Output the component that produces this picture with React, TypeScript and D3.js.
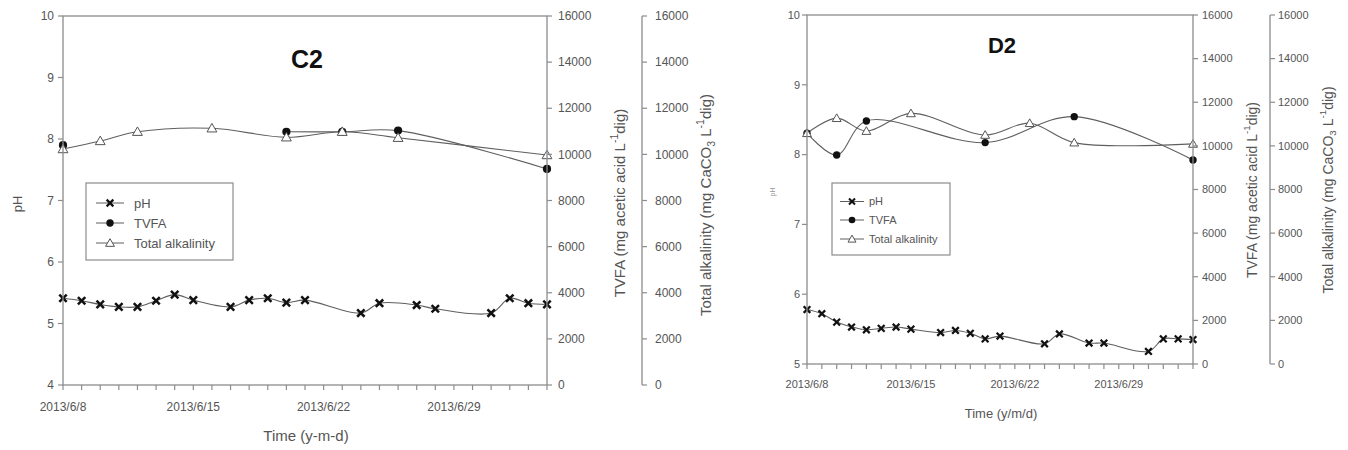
import React from 'react';
import * as d3 from 'd3';

// ---------- data ----------
const phDates = ["2013-06-08","2013-06-09","2013-06-10","2013-06-11","2013-06-12","2013-06-13","2013-06-14","2013-06-15","2013-06-17","2013-06-18","2013-06-19","2013-06-20","2013-06-21","2013-06-24","2013-06-25","2013-06-27","2013-06-28","2013-07-01","2013-07-02","2013-07-03","2013-07-04"];
const c2Ph = [5.41,5.37,5.31,5.27,5.27,5.37,5.47,5.38,5.27,5.38,5.41,5.34,5.38,5.17,5.33,5.30,5.24,5.17,5.41,5.33,5.31];
const c2TvfaDates = ["2013-06-08","2013-06-20","2013-06-23","2013-06-26","2013-07-04"];
const c2Tvfa = [10400,10980,10980,11030,9370];
const c2TvfaSegment = [0,1,1,1,1];
const c2AlkDates = ["2013-06-08","2013-06-10","2013-06-12","2013-06-16","2013-06-20","2013-06-23","2013-06-26","2013-07-04"];
const c2Alk = [10230,10580,10980,11130,10740,10980,10720,9970];

const d2Ph = [5.78,5.72,5.60,5.53,5.49,5.51,5.53,5.50,5.45,5.48,5.44,5.36,5.40,5.29,5.43,5.30,5.30,5.18,5.36,5.36,5.35];
const d2TvfaDates = ["2013-06-08","2013-06-10","2013-06-12","2013-06-20","2013-06-26","2013-07-04"];
const d2Tvfa = [10580,9580,11140,10150,11340,9350];
const d2TvfaSegment = [0,0,0,0,0,0];
const d2AlkDates = ["2013-06-08","2013-06-10","2013-06-12","2013-06-15","2013-06-20","2013-06-23","2013-06-26","2013-07-04"];
const d2Alk = [10580,11270,10680,11490,10500,11040,10150,10090];

const dateStart = "2013-06-08";
const dateEnd = "2013-07-04";
const xTickLabels = ["2013-06-08","2013-06-15","2013-06-22","2013-06-29"];
const rightTicks = [0,2000,4000,6000,8000,10000,12000,14000,16000];
const legendLabels = ["pH","TVFA","Total alkalinity"];

const parse = d3.timeParse("%Y-%m-%d");
const fmt = d3.timeFormat("%Y/%-m/%-d");

const FONT = "'Liberation Sans', Arial, sans-serif";
const AXIS = "#8c8c8c";
const TXT = "#555";
const LINE = "#5f5f5f";
const MARK = "#111";

type PanelProps = {
  title: string; xLabel: string;
  x0: number; x1: number; yTop: number; yBot: number; ax2: number;
  phMin: number; phMax: number;
  ph: number[]; tvfaDates: string[]; tvfa: number[]; tvfaSeg: number[];
  alkDates: string[]; alk: number[];
  fs: number; titleFs: number; titleX: number; titleY: number;
  xLabelY: number; xLabelFs: number; xTickY: number;
  leftLabelRight: number; rightLabelX: number; ax2LabelX: number;
  phTitleX: number; phTitleY: number; phTitleFs: number; phTitleColor: string;
  tvfaTitleX: number; tvfaTitleY: number; alkTitleX: number; alkTitleY: number; axTitleFs: number;
  legend: { x: number; y: number; w: number; h: number; rowY: number[]; lx0: number; lx1: number; tx: number; fs: number };
  markScale: number;
};

function XMark({ cx, cy, s }: { cx: number; cy: number; s: number }) {
  const r = 3.7 * s;
  return <path d={`M${cx - r},${cy - r}L${cx + r},${cy + r}M${cx - r},${cy + r}L${cx + r},${cy - r}`} stroke={MARK} strokeWidth={2.5 * s} fill="none" />;
}
function Dot({ cx, cy, s }: { cx: number; cy: number; s: number }) {
  return <circle cx={cx} cy={cy} r={4.1 * s} fill={MARK} />;
}
function Tri({ cx, cy, s }: { cx: number; cy: number; s: number }) {
  const p = d3.symbol(d3.symbolTriangle, 42 * s * s)();
  return <path d={p || ''} transform={`translate(${cx},${cy + 0.8})`} fill="#fff" stroke="#555" strokeWidth={1} />;
}

function Panel(p: PanelProps) {
  const x = d3.scaleTime().domain([parse(dateStart)!, parse(dateEnd)!]).range([p.x0, p.x1]);
  const yPh = d3.scaleLinear().domain([p.phMin, p.phMax]).range([p.yBot, p.yTop]);
  const yR = d3.scaleLinear().domain([0, 16000]).range([p.yBot, p.yTop]);
  const curve = d3.curveCatmullRom.alpha(0.5);

  const phPts = phDates.map((d, i) => [x(parse(d)!), yPh(p.ph[i])] as [number, number]);
  const tvPts = p.tvfaDates.map((d, i) => [x(parse(d)!), yR(p.tvfa[i])] as [number, number]);
  const alPts = p.alkDates.map((d, i) => [x(parse(d)!), yR(p.alk[i])] as [number, number]);
  const lineGen = d3.line<[number, number]>().curve(curve);

  const segIds = Array.from(new Set(p.tvfaSeg));
  const tvSegs = segIds.map(id => tvPts.filter((_, i) => p.tvfaSeg[i] === id)).filter(s => s.length > 1);

  const days = d3.timeDay.range(parse(dateStart)!, d3.timeDay.offset(parse(dateEnd)!, 1));
  const phTicks = d3.range(p.phMin, p.phMax + 1);
  const s = p.markScale;
  const L = p.legend;

  return (
    <g fontFamily={FONT}>
      {/* data lines */}
      <path d={lineGen(alPts) || ''} fill="none" stroke={LINE} strokeWidth={1.1} />
      {tvSegs.map((sg, i) => <path key={i} d={lineGen(sg) || ''} fill="none" stroke={LINE} strokeWidth={1.1} />)}
      <path d={lineGen(phPts) || ''} fill="none" stroke={LINE} strokeWidth={1.1} />
      {tvPts.map((q, i) => <Dot key={'t' + i} cx={q[0]} cy={q[1]} s={s} />)}
      {alPts.map((q, i) => <Tri key={'a' + i} cx={q[0]} cy={q[1]} s={s} />)}
      {phPts.map((q, i) => <XMark key={'p' + i} cx={q[0]} cy={q[1]} s={s} />)}

      {/* frame */}
      <rect x={p.x0} y={p.yTop} width={p.x1 - p.x0} height={p.yBot - p.yTop} fill="none" stroke={AXIS} strokeWidth={1.3} />
      {/* left axis */}
      {phTicks.map(t => (
        <g key={'l' + t}>
          <line x1={p.x0 - 5} x2={p.x0} y1={yPh(t)} y2={yPh(t)} stroke={AXIS} strokeWidth={1.2} />
          <text x={p.leftLabelRight} y={yPh(t)} dy="0.35em" textAnchor="end" fontSize={p.fs} fill={TXT}>{t}</text>
        </g>
      ))}
      {/* bottom axis */}
      {days.map((d, i) => (
        <line key={'d' + i} x1={x(d)} x2={x(d)} y1={p.yBot} y2={p.yBot + 5} stroke={AXIS} strokeWidth={1.2} />
      ))}
      {xTickLabels.map(d => (
        <text key={d} x={x(parse(d)!)} y={p.xTickY} textAnchor="middle" fontSize={p.fs} fill={TXT}>{fmt(parse(d)!)}</text>
      ))}
      {/* right axis TVFA */}
      {rightTicks.map(t => (
        <g key={'r' + t}>
          <line x1={p.x1} x2={p.x1 + 5} y1={yR(t)} y2={yR(t)} stroke={AXIS} strokeWidth={1.2} />
          <text x={p.rightLabelX} y={yR(t)} dy="0.35em" fontSize={p.fs} fill={TXT}>{t}</text>
        </g>
      ))}
      {/* second right axis alkalinity */}
      <line x1={p.ax2} x2={p.ax2} y1={p.yTop} y2={p.yBot} stroke={AXIS} strokeWidth={1.3} />
      {rightTicks.map(t => (
        <g key={'s' + t}>
          <line x1={p.ax2} x2={p.ax2 + 5} y1={yR(t)} y2={yR(t)} stroke={AXIS} strokeWidth={1.2} />
          <text x={p.ax2LabelX} y={yR(t)} dy="0.35em" fontSize={p.fs} fill={TXT}>{t}</text>
        </g>
      ))}

      {/* axis titles */}
      <text transform={`translate(${p.phTitleX},${p.phTitleY}) rotate(-90)`} textAnchor="middle" fontSize={p.phTitleFs} fill={p.phTitleColor}>pH</text>
      <text transform={`translate(${p.tvfaTitleX},${p.tvfaTitleY}) rotate(-90)`} textAnchor="middle" dominantBaseline="middle" fontSize={p.axTitleFs} fill={TXT}>
        TVFA (mg acetic acid L<tspan fontSize={p.axTitleFs * 0.7} dy={-p.axTitleFs * 0.4}>-1</tspan><tspan dy={p.axTitleFs * 0.4}>dig)</tspan>
      </text>
      <text transform={`translate(${p.alkTitleX},${p.alkTitleY}) rotate(-90)`} textAnchor="middle" dominantBaseline="middle" fontSize={p.axTitleFs} fill={TXT}>
        Total alkalinity (mg CaCO<tspan fontSize={p.axTitleFs * 0.7} dy={p.axTitleFs * 0.3}>3</tspan><tspan dy={-p.axTitleFs * 0.3}> L</tspan><tspan fontSize={p.axTitleFs * 0.7} dy={-p.axTitleFs * 0.4}>-1</tspan><tspan dy={p.axTitleFs * 0.4}>dig)</tspan>
      </text>
      <text x={(p.x0 + p.x1) / 2 + 1} y={p.xLabelY} textAnchor="middle" fontSize={p.xLabelFs} fill={TXT}>{p.xLabel}</text>
      <text x={p.titleX} y={p.titleY} textAnchor="middle" fontSize={p.titleFs} fontWeight="bold" fill="#111">{p.title}</text>

      {/* legend */}
      <rect x={L.x} y={L.y} width={L.w} height={L.h} fill="#fff" stroke={AXIS} strokeWidth={1.2} />
      {legendLabels.map((lab, i) => {
        const cy = L.rowY[i];
        const cx = (L.lx0 + L.lx1) / 2;
        return (
          <g key={lab}>
            <line x1={L.lx0} x2={L.lx1} y1={cy} y2={cy} stroke={LINE} strokeWidth={1} />
            {i === 0 && <XMark cx={cx} cy={cy} s={s * 0.9} />}
            {i === 1 && <Dot cx={cx} cy={cy} s={s * 0.9} />}
            {i === 2 && <Tri cx={cx} cy={cy} s={s * 0.9} />}
            <text x={L.tx} y={cy} dy="0.35em" fontSize={L.fs} fill={TXT}>{lab}</text>
          </g>
        );
      })}
    </g>
  );
}

export default function App() {
  return (
    <svg width={1348} height={450} style={{ position: 'absolute', left: 0, top: 0, background: '#fff' }}>
      <rect width={1348} height={450} fill="#fff" />
      <Panel
        title="C2" xLabel="Time (y-m-d)"
        x0={63} x1={547} yTop={16} yBot={385} ax2={642}
        phMin={4} phMax={10}
        ph={c2Ph} tvfaDates={c2TvfaDates} tvfa={c2Tvfa} tvfaSeg={c2TvfaSegment}
        alkDates={c2AlkDates} alk={c2Alk}
        fs={12} titleFs={25} titleX={307} titleY={68}
        xLabelY={441} xLabelFs={15} xTickY={411}
        leftLabelRight={54} rightLabelX={558} ax2LabelX={655}
        phTitleX={22} phTitleY={204} phTitleFs={13} phTitleColor={TXT}
        tvfaTitleX={621} tvfaTitleY={203} alkTitleX={707} alkTitleY={205} axTitleFs={15}
        legend={{ x: 86, y: 183, w: 147, h: 77, rowY: [203, 223, 243], lx0: 96, lx1: 124, tx: 134, fs: 13 }}
        markScale={1}
      />
      <Panel
        title="D2" xLabel="Time (y/m/d)"
        x0={807} x1={1193} yTop={15} yBot={364} ax2={1270}
        phMin={5} phMax={10}
        ph={d2Ph} tvfaDates={d2TvfaDates} tvfa={d2Tvfa} tvfaSeg={d2TvfaSegment}
        alkDates={d2AlkDates} alk={d2Alk}
        fs={11} titleFs={22} titleX={1002} titleY={53}
        xLabelY={418} xLabelFs={13} xTickY={388}
        leftLabelRight={800} rightLabelX={1202} ax2LabelX={1278}
        phTitleX={775} phTitleY={192} phTitleFs={7} phTitleColor="#999"
        tvfaTitleX={1253} tvfaTitleY={190} alkTitleX={1329} alkTitleY={190} axTitleFs={14}
        legend={{ x: 832, y: 183, w: 118, h: 72, rowY: [201.5, 220, 239], lx0: 840, lx1: 864, tx: 869, fs: 11 }}
        markScale={0.9}
      />
    </svg>
  );
}
